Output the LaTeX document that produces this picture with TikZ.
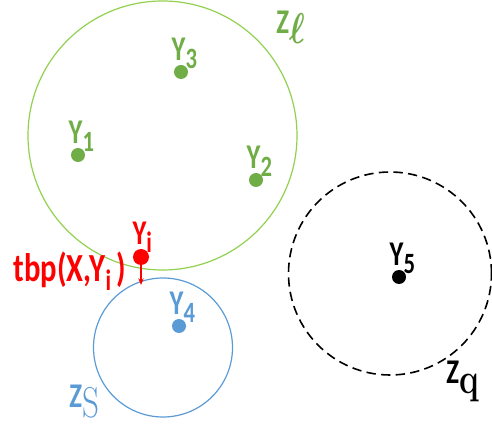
\documentclass[tikz,border=0pt]{standalone}
\usepackage[no-math]{fontspec}
\setmainfont{Carlito}
\usepackage{xcolor}
\usepackage{graphicx}
\usepackage{tikz}
\usetikzlibrary{arrows.meta}

\definecolor{zgreen}{HTML}{92D050}
\definecolor{ygreen}{HTML}{70AD47}
\definecolor{zblue}{HTML}{5B9BD5}
\definecolor{yred}{HTML}{FF0000}

\newcommand{\lowsub}[1]{\raisebox{-0.45ex}{\fontsize{17}{17}\selectfont #1}}
\newcommand{\tall}[1]{\scalebox{1}[1.3]{#1}}

\tikzset{
    pt/.style={circle, fill=#1, inner sep=0pt, minimum size=10.5pt},
    ylab/.style={font=\fontsize{20}{20}\bfseries\selectfont, text=#1, inner sep=0pt},
    zlab/.style={font=\fontsize{20}{20}\bfseries\selectfont, text=#1, inner sep=0pt}
}

\begin{document}
\begin{tikzpicture}[x=0.75pt, y=0.75pt]
    \useasboundingbox (0,0) rectangle (492,428);
    % Centres of the sets
    \coordinate (cl) at (162.5,292.5);
    \coordinate (cs) at (163,80.5);
    \coordinate (cq) at (390,154.5);
    % Draw sets
    \draw[zgreen, line width=0.9pt] (cl) circle[radius=134.5];
    \draw[zblue, line width=0.9pt] (cs) circle[radius=69.5];
    \draw[black, line width=1.2pt, dash pattern=on 7pt off 4pt] (cq) circle[radius=101.5];
    % Set names
    \node[zlab=ygreen, anchor=base west] (zl) at (276,394)
        {\tall{Z\raisebox{-0.55ex}{\fontsize{24}{24}\selectfont\boldmath$\ell$}}};
    \node[zlab=zblue, anchor=base west] (zs) at (69,21)
        {\tall{Z\raisebox{-0.6ex}{\fontsize{24}{24}\selectfont$\mathrm{S}$}}};
    \node[zlab=black, anchor=base west] (zq) at (446,45)
        {\tall{Z\raisebox{-0.6ex}{\fontsize{25}{25}\selectfont$\mathbf{q}$}}};
    % Draw points
    \foreach \n/\x/\y/\c in {1/78/273/ygreen, 2/256/248/ygreen, 3/181/356/ygreen,
                             4/179/102/zblue, 5/399/151/black} {
        \node[pt=\c] (y\n) at (\x,\y) {};
        \node[ylab=\c, anchor=base] (ly\n) at ([xshift=2.5pt, yshift=3pt]y\n.north)
            {\tall{Y\lowsub{\n}}};
    }
    % Point on the boundary
    \node[pt=yred, minimum size=12pt] (yi) at (141,171) {};
    \node[ylab=yred, anchor=base] (lyi) at ([xshift=1pt, yshift=3pt]yi.north)
        {\tall{Y\lowsub{i}}};
    \node[ylab=yred, anchor=base east, font=\fontsize{23}{23}\bfseries\selectfont]
        (tbp) at (126,146) {\tall{tbp(X,Y\lowsub{i}\,)}};
    \coordinate (tip) at (141,143);
    \draw[yred, line width=0.8pt, -{Stealth[length=5pt, width=4pt]}] (yi) -- (tip);
\end{tikzpicture}
\end{document}
